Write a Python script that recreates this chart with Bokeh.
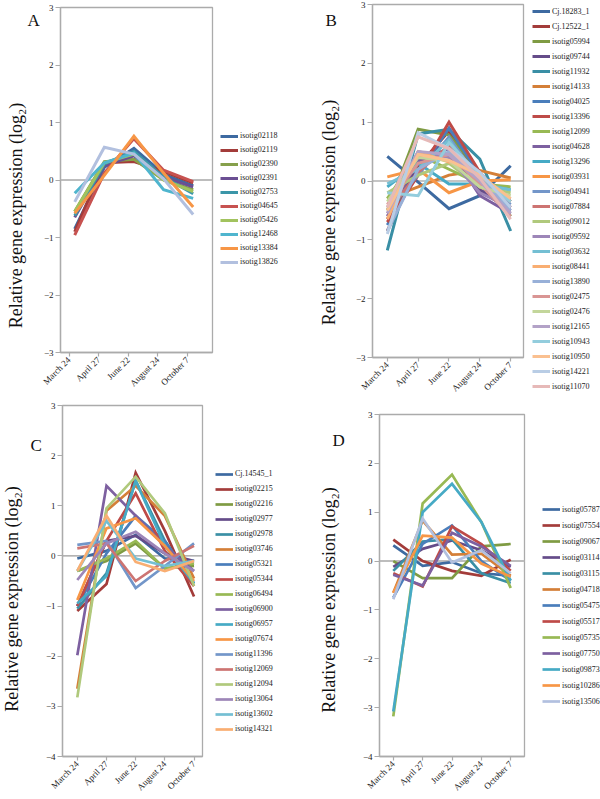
import math
from bokeh.plotting import figure
from bokeh.models import (ColumnDataSource, Range1d, FixedTicker, Span, Label,
                          Legend, LegendItem, Plot)
from bokeh.layouts import column, row
from bokeh.embed import file_html
from bokeh.resources import INLINE
from bokeh.transform import dodge

SERIF = "Liberation Serif"
DATES = ["March 24", "April 27", "June 22", "August 24", "October 7"]
Y_TITLE = "Relative gene expression (log\u2082)"

# ---------------- Panel A ----------------
A_NAMES = ["isotig02118", "isotig02119", "isotig02390", "isotig02391", "isotig02753",
           "isotig04645", "isotig05426", "isotig12468", "isotig13384", "isotig13826"]
A_VALUES = [
    [-0.85, 0.22, 0.55, 0.10, -0.10],
    [-0.90, 0.30, 0.32, 0.15, -0.05],
    [-0.55, 0.32, 0.36, 0.00, -0.17],
    [-0.65, 0.25, 0.42, 0.05, -0.12],
    [-0.62, 0.28, 0.50, 0.05, -0.24],
    [-0.96, 0.12, 0.72, 0.17, -0.03],
    [-0.55, 0.30, 0.45, 0.00, -0.20],
    [-0.23, 0.30, 0.47, -0.17, -0.32],
    [-0.58, 0.08, 0.76, 0.12, -0.47],
    [-0.38, 0.57, 0.45, 0.02, -0.60],
]
A_COLORS = ["#3D6AA1", "#A33C3A", "#86A04B", "#6B4F93", "#3B96A8",
            "#C75250", "#A2C35E", "#4FB5CE", "#F79646", "#B2C0DF"]

# ---------------- Panel B ----------------
B_NAMES = ["Cj.18283_1", "Cj.12522_1", "isotig05994", "isotig09744", "isotig11932",
           "isotig14133", "isotig04025", "isotig13396", "isotig12099", "isotig04628",
           "isotig13296", "isotig03931", "isotig04941", "isotig07884", "isotig09012",
           "isotig09592", "isotig03632", "isotig08441", "isotig13890", "isotig02475",
           "isotig02476", "isotig12165", "isotig10943", "isotig10950", "isotig14221",
           "isotig11070"]
B_VALUES = [
    [0.42, -0.02, -0.47, -0.25, 0.26],
    [-0.85, 0.25, 0.85, 0.05, -0.35],
    [-0.50, 0.88, 0.78, 0.15, -0.60],
    [-0.65, 0.30, 0.70, -0.15, -0.50],
    [-1.18, 0.80, 0.88, 0.37, -0.85],
    [-0.30, -0.10, 0.10, 0.18, 0.05],
    [-0.75, 0.15, 0.90, 0.10, -0.35],
    [-0.70, 0.10, 1.00, 0.15, -0.45],
    [-0.30, 0.45, 0.20, -0.05, -0.10],
    [-0.60, 0.35, 0.55, -0.25, -0.55],
    [-0.10, 0.30, -0.05, -0.05, -0.15],
    [0.07, 0.20, -0.20, 0.00, 0.02],
    [-0.50, 0.10, 0.75, 0.00, -0.40],
    [-0.55, 0.15, 0.60, -0.10, -0.30],
    [-0.20, 0.10, 0.30, -0.10, -0.20],
    [-0.45, 0.50, 0.40, -0.20, -0.45],
    [-0.05, 0.20, 0.70, -0.05, -0.15],
    [-0.65, 0.50, 0.32, 0.10, -0.35],
    [-0.85, 0.20, 0.50, 0.05, -0.50],
    [-0.40, 0.30, 0.45, -0.05, -0.60],
    [-0.35, 0.40, 0.35, -0.10, -0.25],
    [-0.55, 0.50, 0.45, 0.00, -0.55],
    [-0.20, -0.25, 0.65, 0.10, -0.35],
    [-0.50, 0.45, 0.35, 0.10, -0.30],
    [-0.90, 0.82, 0.55, 0.15, -0.45],
    [-0.45, 0.75, 0.55, 0.05, -0.65],
]
DARK = ["#3D6AA1", "#A33C3A", "#7F9B43", "#654C89", "#3A8FA5", "#D47F38"]
ACC = ["#4A7EBB", "#BE4B48", "#98B954", "#7D60A0", "#46AAC5", "#F79646"]
LIGHT = ["#7396C9", "#CD7472", "#B0C97C", "#9D86B8", "#74BFD3", "#F9AE72"]
PALE = ["#98B0D8", "#D99594", "#C3D69B", "#B3A2C7", "#93CDDD", "#FAC090"]
B_COLORS = DARK + ACC + LIGHT + PALE + ["#B9CDE5", "#E6B9B8"]

# ---------------- Panel C ----------------
C_NAMES = ["Cj.14545_1", "isotig02215", "isotig02216", "isotig02977", "isotig02978",
           "isotig03746", "isotig05321", "isotig05344", "isotig06494", "isotig06900",
           "isotig06957", "isotig07674", "isotig11396", "isotig12069", "isotig12094",
           "isotig13064", "isotig13602", "isotig14321"]
C_VALUES = [
    [-0.05, 0.10, 0.42, -0.05, -0.10],
    [-1.10, -0.56, 1.66, 0.50, -0.81],
    [-0.30, -0.10, 0.25, -0.25, -0.20],
    [-1.00, 0.30, 0.40, 0.05, -0.10],
    [-1.05, -0.35, 1.50, 0.30, -0.55],
    [-2.65, 0.90, 1.40, 0.80, -0.45],
    [-1.00, 0.05, 0.80, 0.30, -0.55],
    [-1.00, 0.30, 1.25, 0.10, -0.60],
    [-0.30, -0.05, 0.30, -0.25, -0.15],
    [-1.98, 1.40, 0.80, 0.20, -0.30],
    [-0.95, -0.40, 1.50, 0.20, -0.55],
    [-0.88, 0.55, 0.75, 0.20, -0.50],
    [0.22, 0.30, -0.64, -0.20, 0.25],
    [0.15, 0.25, -0.50, -0.10, 0.20],
    [-2.82, 0.95, 1.58, 0.85, -0.60],
    [-0.48, 0.25, 0.48, 0.05, -0.30],
    [-0.30, 0.70, -0.05, -0.20, -0.10],
    [-0.30, 0.80, -0.12, -0.30, -0.10],
]
C_COLORS = DARK + ACC + LIGHT

# ---------------- Panel D ----------------
D_NAMES = ["isotig05787", "isotig07554", "isotig09067", "isotig03114", "isotig03115",
           "isotig04718", "isotig05475", "isotig05517", "isotig05735", "isotig07750",
           "isotig09873", "isotig10286", "isotig13506"]
D_VALUES = [
    [0.32, -0.10, -0.02, -0.25, -0.30],
    [0.44, 0.00, -0.20, -0.30, 0.03],
    [0.00, -0.35, -0.35, 0.30, 0.35],
    [-0.12, 0.25, 0.42, 0.22, -0.12],
    [-0.20, 0.40, 0.45, -0.25, -0.45],
    [-0.65, 0.83, 0.13, 0.15, -0.30],
    [-0.75, 0.35, 0.73, 0.00, -0.40],
    [-0.25, -0.52, 0.71, 0.35, -0.20],
    [-3.18, 1.18, 1.77, 0.80, -0.55],
    [-0.28, -0.50, 0.58, 0.30, -0.10],
    [-3.08, 1.00, 1.58, 0.80, -0.40],
    [-0.65, 0.52, 0.48, -0.05, -0.32],
    [-0.78, 0.87, -0.03, 0.22, -0.25],
]
D_COLORS = DARK + ACC + ["#B2C0DF"]

AXIS_GRAY = "#ABABAB"
NOALIGN = {"frame_align": False} if "frame_align" in Plot.properties() else {}


def blank(w, h):
    """A figure whose frame is the whole canvas, used for side texts."""
    p = figure(width=w, height=h, output_backend="svg", toolbar_location=None,
               x_axis_type=None, y_axis_type=None, min_border=0,
               min_border_left=0, min_border_right=0, min_border_top=0,
               min_border_bottom=0,
               x_range=Range1d(0, 1), y_range=Range1d(0, 1), **NOALIGN)
    p.xgrid.visible = False
    p.ygrid.visible = False
    p.outline_line_color = None
    return p


def panel(letter, names, values, colors, cfg):
    row_top, h = cfg["row"]
    x0 = cfg["x0"]
    sw, mw, lw_ = cfg["widths"]
    bl, br, bt, bb = cfg["borders"]
    p = figure(width=mw, height=h, output_backend="svg", toolbar_location=None,
               x_range=Range1d(*cfg["xr"]), y_range=Range1d(*cfg["yr"]),
               min_border_left=bl, min_border_right=br, min_border_top=bt,
               min_border_bottom=bb, **NOALIGN)
    p.xgrid.visible = False
    p.ygrid.visible = False
    p.outline_line_color = AXIS_GRAY
    p.outline_line_width = 1.3

    for ax in (p.xaxis[0], p.yaxis[0]):
        ax.axis_line_color = AXIS_GRAY
        ax.axis_line_width = 1.3
        ax.major_tick_line_color = AXIS_GRAY
        ax.major_tick_line_width = 1.2
        ax.minor_tick_line_color = None
        ax.major_tick_in = 0
        ax.major_label_text_font = SERIF
        ax.major_label_text_font_size = "9px"
        ax.major_label_text_color = "#222222"
    p.yaxis[0].ticker = FixedTicker(ticks=list(range(int(cfg["yr"][0]), int(cfg["yr"][1]) + 1)))
    p.yaxis[0].major_tick_out = 5
    p.yaxis[0].major_label_standoff = 2
    p.xaxis[0].ticker = FixedTicker(ticks=list(range(len(DATES))))
    p.xaxis[0].major_label_overrides = {i: d for i, d in enumerate(DATES)}
    p.xaxis[0].major_label_orientation = math.pi / 4
    p.xaxis[0].major_tick_out = 4
    p.xaxis[0].major_label_standoff = 2

    p.add_layout(Span(location=0, dimension="width", line_color=cfg["zero_color"],
                      line_width=cfg["zero_width"], level="underlay"))

    for vals, col in zip(values, colors):
        src = ColumnDataSource(dict(x=list(range(len(DATES))), y=vals))
        p.line(x=dodge("x", cfg["shift"]), y="y", source=src, line_color=col,
               line_width=cfg["lw"], line_join="miter")

    bottom_page = row_top + h  # bottom of the row, page coords

    # ---- strip with the y title and the panel letter ----
    strip = blank(sw, h)
    yx, yy = cfg["ytitle"]
    strip.add_layout(Label(x=yx - x0, y=bottom_page - yy, x_units="screen", y_units="screen",
                           text=Y_TITLE, angle=math.pi / 2, text_align="center",
                           text_baseline="middle", text_font=SERIF,
                           text_font_size="18px", text_color="#111111"))
    lx, ly = cfg["letter"]
    strip.add_layout(Label(x=lx - x0, y=bottom_page - ly, x_units="screen", y_units="screen",
                           text=letter, text_align="left", text_baseline="alphabetic",
                           text_font=SERIF, text_font_size="17px", text_color="#111111"))

    # ---- legend figure ----
    lf = blank(lw_, h)
    lx0 = x0 + sw + mw
    items = []
    for name, col in zip(names, colors):
        r = lf.line(x=[math.nan, math.nan], y=[math.nan, math.nan],
                    line_color=col, line_width=cfg["lw"])
        items.append(LegendItem(label=name, renderers=[r]))
    gl, first_c, ih, sp = cfg["legend"]
    n = len(names)
    top = first_c - ih / 2
    bottom = top + n * ih + (n - 1) * sp
    leg = Legend(items=items, location=(gl - lx0, bottom_page - bottom),
                 padding=0, margin=0, spacing=sp, glyph_height=ih, label_height=ih,
                 glyph_width=18, label_standoff=2, label_text_font=SERIF,
                 label_text_font_size="8px", label_text_color="#222222",
                 border_line_alpha=0, background_fill_alpha=0)
    lf.add_layout(leg)
    return [strip, p, lf]


pA = panel("A", A_NAMES, A_VALUES, A_COLORS, dict(
    row=(0, 400), x0=0, widths=(40, 174, 86), borders=(18, 2, 7, 48),
    xr=(-0.29, 4.843), yr=(-3, 3), shift=0.19, lw=3,
    zero_color="#BDBDBD", zero_width=2,
    legend=(220, 135.5, 10, 4), ytitle=(15, 215), letter=(27, 20)))

pB = panel("B", B_NAMES, B_VALUES, B_COLORS, dict(
    row=(0, 400), x0=300, widths=(52, 173, 75), borders=(18, 2, 4, 43),
    xr=(-0.48, 4.416), yr=(-3, 3), shift=0.0, lw=3,
    zero_color="#8C8C8C", zero_width=1.2,
    legend=(532, 11, 10, 5), ytitle=(328, 212), letter=(325, 20)))

pC = panel("C", C_NAMES, C_VALUES, C_COLORS, dict(
    row=(400, 398), x0=0, widths=(42, 162, 96), borders=(18, 2, 5, 41),
    xr=(-0.507, 4.29), yr=(-4, 3), shift=0.0, lw=2.7,
    zero_color="#9A9A9A", zero_width=1.2,
    legend=(215, 473.5, 10, 5), ytitle=(11, 598.5), letter=(30, 445)))

pD = panel("D", D_NAMES, D_VALUES, D_COLORS, dict(
    row=(400, 398), x0=300, widths=(59, 167, 74), borders=(18, 2, 14, 41),
    xr=(-0.47, 4.47), yr=(-4, 3), shift=0.0, lw=2.7,
    zero_color="#BDBDBD", zero_width=2,
    legend=(542, 509, 12, 4), ytitle=(328, 599.5), letter=(332, 440)))

layout = column(row(*(pA + pB), spacing=0), row(*(pC + pD), spacing=0), spacing=0)

with open("out.html", "w") as f:
    f.write(file_html(layout, INLINE))
